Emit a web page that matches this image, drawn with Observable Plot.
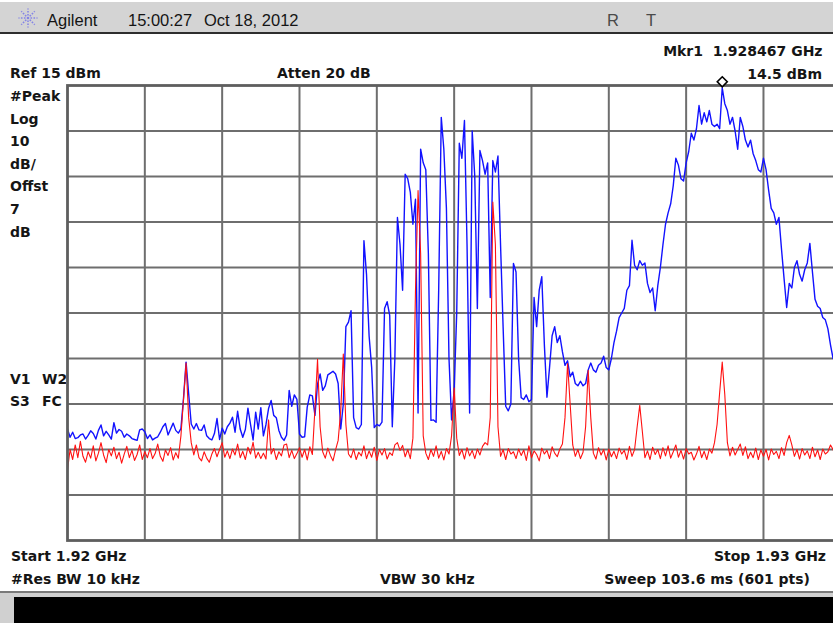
<!DOCTYPE html>
<html>
<head>
<meta charset="utf-8">
<script src="https://cdn.jsdelivr.net/npm/d3@7"></script>
<script src="https://cdn.jsdelivr.net/npm/@observablehq/plot@0.6"></script>
<style>
  html, body { margin: 0; padding: 0; background: #fff; overflow: hidden; }
  #screen { position: relative; width: 833px; height: 623px; overflow: hidden; background: #fff; }
  #screen > svg { position: absolute; }
</style>
</head>
<body>
<div id="screen"></div>
<script>
// Sweep settings (MHz / dBm)
const startMHz = 1920;
const stopMHz = 1930;
const refLevel = 15;      // dBm at top graticule line
const dbPerDiv = 10;
const divisions = 10;

// Graticule lines inside the frame
const gridFreqs = [1921, 1922, 1923, 1924, 1925, 1926, 1927, 1928, 1929];
const gridLevels = [5, -5, -15, -25, -35, -45, -55, -65, -75];

// Marker 1
const markerFreq = 1928.467;
const markerLevel = 14.5;

// Trace 1 (blue, max hold) – every second sweep point
const blueLevels = [
  -60.5, -62.3, -61.2, -62.6, -62.4, -61.8, -61.6, -62.7, -61.9, -60.9,
  -61.5, -62.7, -60.8, -59.6, -62.0, -61.0, -61.8, -62.7, -59.1, -61.4,
  -60.6, -61.0, -62.3, -61.6, -62.0, -62.6, -62.8, -63.0, -60.7, -60.5,
  -61.1, -62.6, -61.8, -62.9, -62.5, -62.2, -61.2, -60.0, -59.3, -61.8,
  -60.5, -59.2, -60.8, -61.4, -60.4, -53.8, -45.8, -52.7, -59.4, -60.5,
  -59.3, -60.7, -60.8, -59.6, -62.0, -62.6, -62.9, -61.5, -58.2, -62.8,
  -60.3, -61.6, -60.0, -59.2, -57.9, -61.2, -56.6, -60.5, -62.3, -60.6,
  -55.9, -59.5, -62.9, -56.8, -60.5, -55.8, -62.0, -59.5, -56.0, -54.2,
  -57.5, -58.0, -60.8, -62.3, -63.0, -61.8, -52.0, -55.5, -53.0, -54.0,
  -61.6, -62.3, -62.2, -55.7, -53.0, -53.2, -57.5, -50.6, -48.4, -52.0,
  -51.0, -48.6, -48.2, -47.8, -48.4, -50.5, -60.5, -55.0, -38.0, -37.0,
  -34.5, -58.0, -60.2, -60.5, -59.5, -19.1, -26.5, -40.0, -47.0, -60.2,
  -59.5, -59.8, -59.0, -34.0, -32.5, -35.5, -60.0, -45.0, -14.0, -20.0,
  -30.0, -4.5, -5.5, -8.5, -15.5, -10.0, -57.0, 1.0, -2.0, -3.5,
  -22.0, -58.6, -58.5, -59.0, -30.0, 8.0, 1.0, -12.0, -45.0, -58.5,
  -52.0, -35.0, 2.3, -1.0, 7.3, -20.0, -57.0, 5.0, -5.0, -34.0,
  0.7, -1.5, -4.5, -2.0, -31.6, -1.5, -4.0, -0.5, -20.0, -38.2,
  -55.5, -56.5, -55.0, -24.1, -26.0, -45.0, -53.6, -54.0, -53.0, -54.5,
  -54.0, -31.6, -38.0, -30.0, -27.0, -42.0, -53.5, -47.0, -40.0, -38.0,
  -41.5, -40.0, -43.5, -46.5, -45.5, -49.0, -48.0, -50.5, -51.0, -50.0,
  -51.0, -50.5, -47.5, -46.0, -47.5, -48.0, -46.5, -46.0, -44.5, -47.0,
  -47.5, -45.0, -41.5, -39.0, -36.0, -35.0, -34.0, -30.0, -29.0, -19.0,
  -24.5, -25.5, -23.5, -24.5, -24.0, -28.5, -30.5, -29.5, -34.5, -29.0,
  -25.0, -20.0, -15.5, -13.0, -11.0, -7.0, -1.0, -2.5, -5.5, -6.0,
  -2.0, 0.5, 4.5, 3.0, 5.5, 10.6, 6.5, 9.0, 7.0, 9.5,
  6.5, 6.0, 6.5, 5.5, 14.5, 11.0, 9.5, 6.5, 8.0, 5.0,
  1.0, 8.0, 6.0, 3.0, 1.5, 3.0, 0.0, -1.5, -3.5, -4.0,
  -1.0, -3.5, -8.0, -12.0, -13.0, -15.5, -14.0, -21.0, -27.5, -33.8,
  -28.5, -29.5, -25.0, -23.5, -26.5, -28.0, -25.5, -24.0, -19.7, -26.0,
  -32.0, -33.5, -34.0, -36.0, -36.5, -38.5, -42.0, -45.0, -45.5, -48.0,
  -47.0
];

// Trace 2 (red, clear/write) – every second sweep point
const redLevels = [
  -69.5, -65.0, -67.2, -64.0, -66.8, -63.2, -66.5, -67.8, -65.5, -66.9,
  -64.2, -67.5, -65.8, -63.5, -66.2, -67.9, -65.0, -66.4, -64.5, -67.0,
  -65.6, -68.0, -66.0, -64.3, -66.8, -65.2, -67.4, -66.1, -64.0, -67.2,
  -65.5, -66.8, -64.8, -67.0, -65.9, -63.8, -66.5, -67.6, -65.1, -66.3,
  -64.6, -67.3, -65.7, -66.9, -62.0, -54.0, -46.0, -58.0, -63.5, -66.2,
  -64.0, -66.8, -67.5, -65.5, -66.9, -67.8, -66.0, -64.8, -66.6, -65.0,
  -63.5, -66.7, -65.3, -67.0, -64.9, -66.2, -63.8, -66.8, -65.4, -67.2,
  -64.5, -66.0, -63.4, -66.9, -65.6, -67.0, -65.8, -67.1, -58.5, -66.0,
  -64.8, -67.2, -65.5, -66.4, -64.0, -63.8, -66.8, -65.2, -67.0, -65.9,
  -64.6, -66.7, -65.0, -67.3, -64.4, -66.1, -56.0, -45.2, -60.0, -65.5,
  -66.9, -64.7, -66.3, -67.5, -65.1, -63.0, -56.5, -44.0, -59.5, -66.0,
  -66.8, -64.9, -67.2, -65.6, -66.4, -64.2, -67.0, -65.3, -66.7, -64.5,
  -67.4, -65.0, -66.2, -64.8, -67.1, -65.7, -66.3, -64.0, -63.5, -65.2,
  -64.1, -66.6, -65.0, -67.0, -62.5, -30.0, -8.1, -22.0, -62.0, -65.8,
  -67.2, -65.0, -66.5, -64.2, -66.9, -65.4, -67.3, -64.8, -66.0, -62.0,
  -51.5, -62.5, -66.3, -65.0, -67.1, -64.6, -66.4, -65.2, -67.0, -64.9,
  -66.2, -64.3, -63.5, -64.0, -58.0, -10.6, -20.0, -60.0, -66.5, -65.0,
  -67.2, -64.8, -66.0, -65.5, -67.0, -64.9, -66.3, -65.1, -67.4, -64.2,
  -66.8, -65.3, -66.1, -67.5, -64.7, -66.0, -65.2, -67.0, -64.4, -65.8,
  -66.6, -64.9, -63.8, -58.0, -46.1, -55.0, -64.0, -66.5, -65.0, -67.0,
  -65.6, -60.0, -47.6, -58.0, -65.8, -67.1, -64.6, -66.2, -65.0, -67.3,
  -64.9, -66.6, -65.4, -67.0, -64.7, -66.0, -65.2, -67.2, -64.3, -66.5,
  -65.0, -60.0, -55.3, -61.0, -66.8, -65.3, -67.2, -64.5, -66.1, -65.0,
  -67.0, -64.6, -66.4, -64.2, -66.9, -65.5, -64.0, -66.7, -65.2, -67.1,
  -64.8, -66.0, -65.6, -67.3, -66.0, -64.3, -66.8, -65.4, -67.2, -64.9,
  -65.8, -63.5, -59.5, -52.5, -45.8, -53.0, -63.5, -66.4, -64.5, -66.2,
  -65.0, -63.8, -66.3, -64.4, -67.0, -65.6, -66.8, -64.7, -67.2, -65.1,
  -66.5, -65.0, -67.3, -64.9, -66.1, -65.4, -67.0, -64.6, -66.3, -63.5,
  -61.9, -64.0, -66.5, -65.0, -67.1, -64.8, -66.2, -65.3, -67.0, -64.5,
  -66.6, -65.1, -67.2, -64.9, -66.0, -65.5, -64.0, -65.0, -66.5, -65.8,
  -67.0
];

// Instrument annotations
const headerTime = "15:00:27";
const headerDate = "Oct 18, 2012";
const sideLabels = ["#Peak", "Log", "10", "dB/", "Offst", "7", "dB"];

const screen = document.getElementById("screen");

// ---- Screen furniture and text (drawn beneath the graticule) ----
const ann = d3.create("svg")
  .attr("width", 833).attr("height", 623)
  .style("left", "0px").style("top", "0px");

// title bar
ann.append("rect").attr("x", 0).attr("y", 2).attr("width", 833).attr("height", 30).attr("fill", "#d4d4d4");
ann.append("rect").attr("x", 0).attr("y", 32).attr("width", 833).attr("height", 2).attr("fill", "#2e2e2e");

// Agilent spark logo
const logo = ann.append("g").attr("transform", "translate(28,18)");
for (let k = 0; k < 8; k++) {
  const a = k * Math.PI / 4;
  logo.append("line")
    .attr("x1", Math.cos(a) * 2.5).attr("y1", Math.sin(a) * 2.5)
    .attr("x2", Math.cos(a) * 9.5).attr("y2", Math.sin(a) * 9.5)
    .attr("stroke", "#8585e6").attr("stroke-width", 1.6)
    .attr("stroke-dasharray", "1.6 1.4");
}
logo.append("circle").attr("r", 1.3).attr("fill", "#8585e6");

const hdr = (x, y, t, fill = "#141414") => ann.append("text")
  .attr("x", x).attr("y", y).text(t)
  .attr("font-family", "'Liberation Sans', Arial, sans-serif")
  .attr("font-size", 16.5).attr("fill", fill);
hdr(47, 26, "Agilent");
hdr(128, 26, headerTime);
hdr(204, 26, headerDate);
hdr(607, 26, "R", "#4a4a4a");
hdr(646, 26, "T", "#4a4a4a");

const lbl = (x, y, t, anchor = "start") => ann.append("text")
  .attr("x", x).attr("y", y).text(t)
  .attr("text-anchor", anchor)
  .attr("font-family", "'DejaVu Sans', Verdana, sans-serif")
  .attr("font-weight", "bold").attr("font-size", 14)
  .attr("fill", "#151515")
  .style("white-space", "pre");

lbl(822.5, 56, `Mkr1  ${(markerFreq / 1000).toFixed(6)} GHz`, "end");
lbl(822, 79, `${markerLevel.toFixed(1)} dBm`, "end");
lbl(10, 78, `Ref ${refLevel} dBm`);
lbl(277, 78, "Atten 20 dB");
sideLabels.forEach((t, i) => lbl(10, 101 + i * 22.6, t));
lbl(10, 383.5, "V1"); lbl(42, 383.5, "W2");
lbl(10, 405.5, "S3"); lbl(42, 405.5, "FC");
lbl(11, 561, `Start ${startMHz / 1000} GHz`);
lbl(826, 561, `Stop ${stopMHz / 1000} GHz`, "end");
lbl(11, 584, "#Res BW 10 kHz");
lbl(380, 584, "VBW 30 kHz");
lbl(810, 584, "Sweep 103.6 ms (601 pts)", "end");

// soft-key strip at the bottom
ann.append("rect").attr("x", 0).attr("y", 591).attr("width", 833).attr("height", 2).attr("fill", "#7a7a7a");
ann.append("rect").attr("x", 0).attr("y", 593).attr("width", 833).attr("height", 30).attr("fill", "#d0d0d0");
ann.append("rect").attr("x", 14).attr("y", 597).attr("width", 819).attr("height", 26).attr("fill", "#000");

screen.appendChild(ann.node());

// ---- Graticule and traces ----
const step = (stopMHz - startMHz) / (blueLevels.length - 1);
const blueTrace = blueLevels.map((v, i) => ({f: startMHz + i * step, v}));
const redTrace = redLevels.map((v, i) => ({f: startMHz + i * step, v}));

const gridStyle = {stroke: "#6e6e6e", strokeWidth: 2};

const chart = Plot.plot({
  width: 846,
  height: 465,
  marginLeft: 67,
  marginRight: 5.7,
  marginTop: 5,
  marginBottom: 5,
  style: {background: "transparent", maxWidth: "none", overflow: "visible"},
  x: {domain: [startMHz, stopMHz], axis: null},
  y: {domain: [refLevel - dbPerDiv * divisions, refLevel], axis: null},
  marks: [
    Plot.frame({fill: "white"}),
    Plot.ruleX(gridFreqs, gridStyle),
    Plot.ruleY(gridLevels, gridStyle),
    Plot.line(blueTrace, {x: "f", y: "v", stroke: "#1212ff", strokeWidth: 1.4, clip: true}),
    Plot.line(redTrace, {x: "f", y: "v", stroke: "#ff1111", strokeWidth: 1.1, clip: true}),
    Plot.frame({stroke: "#5e5e5e", strokeWidth: 2.8}),
    Plot.dot([{f: markerFreq, v: markerLevel}], {
      x: "f", y: "v", symbol: "diamond2", r: 4.5,
      stroke: "#000", fill: "#fff", strokeWidth: 1.6, dy: -6
    })
  ]
});
chart.style.left = "0px";
chart.style.top = "80px";
chart.style.maxWidth = "none";
screen.appendChild(chart);
</script>
</body>
</html>
